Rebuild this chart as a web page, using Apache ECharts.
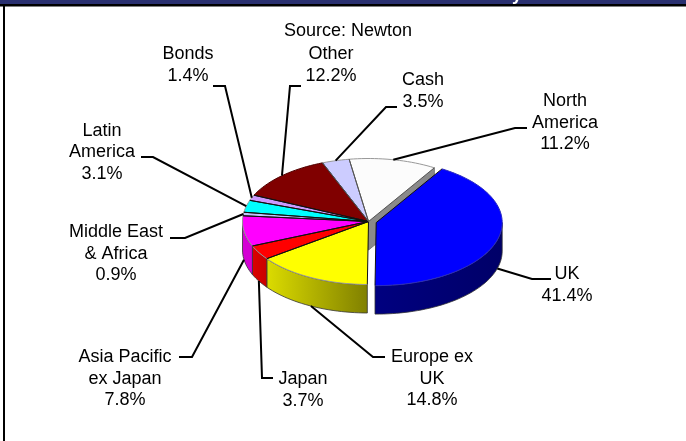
<!DOCTYPE html>
<html>
<head>
<meta charset="utf-8">
<style>html,body{margin:0;padding:0;background:#fff}#chart{width:686px;height:441px}</style>
<script src="https://cdn.jsdelivr.net/npm/echarts@6/dist/echarts.min.js"></script>
</head>
<body>
<div id="chart"></div>
<script>
// Portfolio allocation, clockwise from the UK slice
const categories = ['UK', 'Europe ex\nUK', 'Japan', 'Asia Pacific\nex Japan', 'Middle East\n& Africa',
  'Latin\nAmerica', 'Bonds', 'Other', 'Cash', 'North\nAmerica'];
const weights = [41.4, 14.8, 3.7, 7.8, 0.9, 3.1, 1.4, 12.2, 3.5, 11.2];

// Slice colours: top face, wall face (left and right ends of the wall gradient)
const topColors = ['#0000ff', '#ffff00', '#ff0000', '#ff00ff', '#c4c4ff', '#00ffff', '#cc99ff', '#800000', '#ccccff', '#fcfcfc'];
const wallColors = [['#000080', '#000068'], ['#dcdc00', '#808000'], ['#dc0000', '#c80000'], ['#d400d4', '#d400d4'],
  ['#9999cc', '#9999cc'], ['#00cccc', '#00cccc'], ['#a080cc', '#a080cc'], ['#500000', '#500000'], ['#9999cc', '#9999cc'], ['#cccccc', '#cccccc']];

// Pie geometry in pixels
const pie = { cx: 368.5, cy: 221.5, rx: 126, ry: 63, depth: 28.5, startDeg: 31.5, ukExplode: 8 };

// Label anchor (centre x, centre y of the block) and the elbow of each leader line
const labelLayout = [
  { x: 567, y: 285, path: [[551, 279], [532, 279]] },
  { x: 432, y: 379, path: [[385, 357], [373, 357]] },
  { x: 303, y: 390, path: [[273, 378], [262, 378]] },
  { x: 125, y: 379, path: [[179, 357], [192, 357]] },
  { x: 116, y: 254, path: [[170, 238], [185, 238]] },
  { x: 102, y: 152.5, path: [[141, 157], [153, 157]] },
  { x: 188, y: 65, path: [[213, 86], [225, 86]] },
  { x: 331, y: 65, path: [[301, 86], [290, 86]] },
  { x: 423, y: 91, path: [[397, 107], [386, 107]] },
  { x: 565, y: 123, path: [[527, 128], [515, 128]] }
];

const total = weights.reduce((a, b) => a + b, 0);
const toDeg = v => v / total * 360;

function sliceRange(i) {
  let start = pie.startDeg;
  for (let k = 0; k < i; k++) start += toDeg(weights[k]);
  return [start, start + toDeg(weights[i])];
}

// Ellipse point for an angle measured clockwise from twelve o'clock
function rimPoint(c, deg, dy) {
  const t = deg * Math.PI / 180;
  return [c[0] + pie.rx * Math.sin(t), c[1] - pie.ry * Math.cos(t) + (dy || 0)];
}

function arcPoints(c, a, b, dy) {
  const pts = [];
  const n = Math.max(2, Math.ceil(Math.abs(b - a) / 2));
  for (let j = 0; j <= n; j++) pts.push(rimPoint(c, a + (b - a) * j / n, dy));
  return pts;
}

function sliceCentre(i, a, b) {
  if (i !== 0) return [pie.cx, pie.cy];
  const mid = (a + b) / 2 * Math.PI / 180;
  return [pie.cx + pie.ukExplode * Math.sin(mid), pie.cy - pie.ukExplode * 0.5 * Math.cos(mid)];
}

function renderSlice(params, api) {
  const i = params.dataIndex;
  const value = api.value(1);
  const range = sliceRange(i);
  const a = range[0], b = range[0] + toDeg(value);
  const c = sliceCentre(i, a, b);
  const children = [];

  // Outer wall, only the part of the rim facing the viewer
  const wa = Math.max(a, 90), wb = Math.min(b, 270);
  if (wb > wa) {
    const upper = arcPoints(c, wa, wb, 0);
    const lower = arcPoints(c, wb, wa, pie.depth);
    children.push({
      type: 'polygon', z2: 2,
      shape: { points: upper.concat(lower) },
      style: {
        fill: { type: 'linear', x: 1, y: 0, x2: 0, y2: 0,
          colorStops: [{ offset: 0, color: wallColors[i][1] }, { offset: 1, color: wallColors[i][0] }] },
        stroke: '#333', lineWidth: 0.8
      }
    });
  }

  // Cut face of the last slice, seen through the gap left by the exploded slice
  if (i === weights.length - 1) {
    const e = rimPoint(c, b, 0);
    children.push({
      type: 'polygon', z2: 1,
      shape: { points: [c, e, [e[0], e[1] + pie.depth], [c[0], c[1] + pie.depth]] },
      style: { fill: '#8a8a8a', stroke: '#777', lineWidth: 1 }
    });
  }

  // Top face
  const rim = arcPoints(c, a, b, 0);
  children.push({
    type: 'polygon', z2: 3,
    shape: { points: [c].concat(rim) },
    style: { fill: topColors[i] }
  });
  children.push({
    type: 'polyline', z2: 4,
    shape: { points: rim },
    style: { fill: null, stroke: i === 7 ? '#500000' : (i === 0 ? '#2a2ac0' : '#999'), lineWidth: 1 }
  });
  const edgeColor = i >= 8 ? '#555' : '#111';
  children.push({
    type: 'polyline', z2: 5,
    shape: { points: [rim[0], c, rim[rim.length - 1]] },
    style: { fill: null, stroke: edgeColor, lineWidth: 1 }
  });

  // Leader line from the label to the middle of the slice's rim
  const mid = (a + b) / 2;
  const faces = mid > 90 && mid < 270;
  const attach = rimPoint(c, mid, faces ? pie.depth : 0);
  const layout = labelLayout[i];
  children.push({
    type: 'polyline', z2: 6,
    shape: { points: layout.path.concat([attach]) },
    style: { fill: null, stroke: '#000', lineWidth: 2 }
  });

  // Label
  children.push({
    type: 'text', z2: 7,
    style: {
      x: layout.x, y: layout.y,
      text: api.value(2) + '\n' + value.toFixed(1) + '%',
      align: 'center', verticalAlign: 'middle',
      fontFamily: 'Liberation Sans', fontSize: 18, lineHeight: 21.5, fill: '#000'
    }
  });
  return { type: 'group', children };
}

const chart = echarts.init(document.getElementById('chart'), null, { renderer: 'canvas' });
chart.setOption({
  animation: false,
  backgroundColor: '#fff',
  title: {
    text: 'Source: Newton', left: 343, top: 17, textAlign: 'center',
    textStyle: { fontFamily: 'Liberation Sans', fontSize: 18, fontWeight: 'normal', color: '#000' }
  },
  graphic: [
    { type: 'rect', z: 0, shape: { x: 0, y: 0, width: 686, height: 4 }, style: { fill: '#2a3070' } },
    { type: 'rect', z: 0, shape: { x: 0, y: 4, width: 686, height: 2.5 }, style: { fill: '#000' } },
    { type: 'rect', z: 0, shape: { x: 3, y: 4, width: 2, height: 437 }, style: { fill: '#000' } },
    { type: 'text', z: 1, style: { x: 517, y: 4, text: 'y', align: 'center', verticalAlign: 'bottom',
      fontFamily: 'Liberation Sans', fontWeight: 'bold', fontSize: 18, fill: '#fff' } }
  ],
  series: [{
    type: 'custom',
    coordinateSystem: 'none',
    renderItem: renderSlice,
    encode: { value: 1 },
    data: categories.map((name, i) => [i, weights[i], name])
  }]
});
</script>
</body>
</html>
